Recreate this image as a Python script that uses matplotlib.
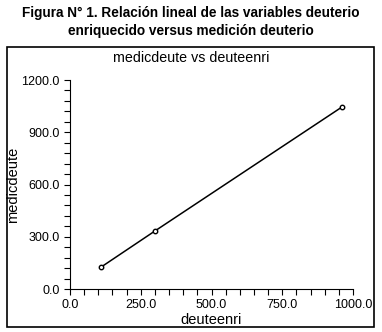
import numpy as np
import matplotlib
matplotlib.use("Agg")
import matplotlib.pyplot as plt
from matplotlib.patches import Rectangle
from matplotlib.ticker import MultipleLocator, FormatStrFormatter

plt.rcParams['font.family'] = ['Liberation Sans', 'DejaVu Sans']

deuteenri = [110.0, 300.0, 961.0]
medicdeute = [126.0, 333.0, 1045.0]

fig = plt.figure(figsize=(3.82, 3.32), dpi=100)

fig.text(0.5, 1 - 13 / 332, "Figura N° 1. Relación lineal de las variables deuterio",
         ha='center', va='center', fontsize=9.8, fontweight='bold')
fig.text(0.5, 1 - 31 / 332, "enriquecido versus medición deuterio",
         ha='center', va='center', fontsize=9.8, fontweight='bold')

# frame round the chart
fig.patches.append(Rectangle((7 / 382, 1 - 327 / 332), 367 / 382, 280 / 332,
                             transform=fig.transFigure, fill=False,
                             edgecolor='black', linewidth=1.2))

ax = fig.add_axes([70 / 382, 1 - 289 / 332, 283 / 382, 209 / 332])
ax.plot(deuteenri, medicdeute, color='black', linewidth=1.1,
        marker='o', markersize=3.2, markerfacecolor='white',
        markeredgecolor='black', markeredgewidth=1.0)

ax.set_xlim(0, 1000)
ax.set_ylim(0, 1200)
ax.xaxis.set_major_locator(MultipleLocator(250))
ax.xaxis.set_minor_locator(MultipleLocator(50))
ax.yaxis.set_major_locator(MultipleLocator(300))
ax.yaxis.set_minor_locator(MultipleLocator(60))
ax.xaxis.set_major_formatter(FormatStrFormatter('%.1f'))
ax.yaxis.set_major_formatter(FormatStrFormatter('%.1f'))
ax.tick_params(which='both', direction='out', length=4, width=0.8, labelsize=9)
for s in ['top', 'right']:
    ax.spines[s].set_visible(False)
ax.spines['left'].set_linewidth(0.8)
ax.spines['bottom'].set_linewidth(0.8)

ax.set_xlabel("deuteenri", fontsize=10.5, labelpad=1)
ax.set_ylabel("medicdeute", fontsize=10.5, labelpad=1)
fig.text(0.5, 1 - 58 / 332, "medicdeute vs deuteenri", ha='center', va='center',
         fontsize=10.3)

fig.savefig("out.png", dpi=100)
